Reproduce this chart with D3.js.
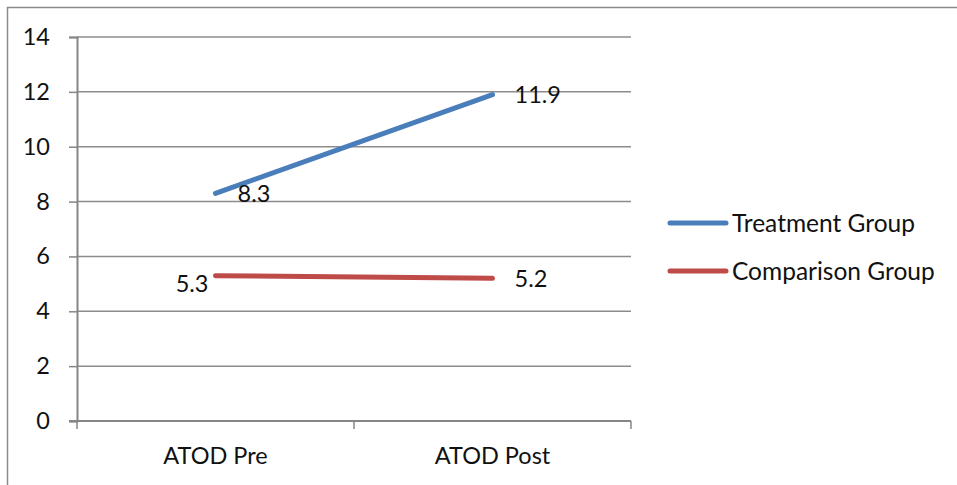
<!DOCTYPE html>
<html>
<head>
<meta charset="utf-8">
<script src="https://cdn.jsdelivr.net/npm/d3@7"></script>
<style>
  html, body { margin: 0; padding: 0; background: #fff; }
  svg { display: block; font-family: Lato, "Open Sans", sans-serif; }
</style>
</head>
<body>
<svg id="chart" width="957" height="485"></svg>
<script>
// ATOD scores before and after, by group
const categories = ["ATOD Pre", "ATOD Post"];
const seriesNames = ["Treatment Group", "Comparison Group"];
const treatmentValues = [8.3, 11.9];
const comparisonValues = [5.3, 5.2];
const yTicks = [0, 2, 4, 6, 8, 10, 12, 14];
const seriesColors = ["#4a7ebb", "#be4b48"];

const series = [
  { name: seriesNames[0], values: treatmentValues, color: seriesColors[0], labelSide: ["right", "right"] },
  { name: seriesNames[1], values: comparisonValues, color: seriesColors[1], labelSide: ["left", "right"] }
];

const svg = d3.select("#chart");
const margin = { left: 77, top: 37, right: 631, bottom: 421 };
const fontSize = 23.5;
const legendFontSize = 24.5;

// outer frame
svg.append("path")
  .attr("d", "M7.5,490V7.5H960")
  .attr("fill", "none")
  .attr("stroke", "#8a8a8a")
  .attr("stroke-width", 1.5);

const x = d3.scaleBand().domain(categories).range([margin.left, margin.right]);
const y = d3.scaleLinear().domain([0, 14]).range([margin.bottom, margin.top]);

// horizontal gridlines
svg.append("g")
  .selectAll("line")
  .data(yTicks.filter(d => d > 0))
  .join("line")
  .attr("x1", margin.left).attr("x2", margin.right)
  .attr("y1", d => y(d)).attr("y2", d => y(d))
  .attr("stroke", "#8c8c8c")
  .attr("stroke-width", 1.5);

// y axis
const yAxis = svg.append("g")
  .attr("transform", `translate(${margin.left},0)`)
  .call(d3.axisLeft(y).tickValues(yTicks).tickSize(8).tickPadding(19));
yAxis.select(".domain").attr("stroke", "#868686").attr("stroke-width", 2);
yAxis.selectAll(".tick line").attr("stroke", "#868686").attr("stroke-width", 1.5);
yAxis.selectAll(".tick text")
  .attr("fill", "#111")
  .style("font-size", fontSize + "px")
  .style("font-family", "Lato, 'Open Sans', sans-serif");

// x axis with ticks at category boundaries
const boundaries = [margin.left, margin.left + x.bandwidth(), margin.right];
const xAxis = svg.append("g").attr("transform", `translate(0,${margin.bottom})`);
xAxis.append("line")
  .attr("x1", margin.left - 8).attr("x2", margin.right)
  .attr("stroke", "#868686").attr("stroke-width", 2);
xAxis.selectAll(".btick")
  .data(boundaries)
  .join("line")
  .attr("class", "btick")
  .attr("x1", d => d).attr("x2", d => d)
  .attr("y1", 0).attr("y2", 8)
  .attr("stroke", "#868686").attr("stroke-width", 1.5);
xAxis.selectAll(".clabel")
  .data(categories)
  .join("text")
  .attr("class", "clabel")
  .attr("x", d => x(d) + x.bandwidth() / 2)
  .attr("y", 35)
  .attr("dy", "0.35em")
  .attr("text-anchor", "middle")
  .attr("fill", "#111")
  .style("font-size", fontSize + "px")
  .text(d => d);

// series lines
const line = d3.line()
  .x((d, i) => x(categories[i]) + x.bandwidth() / 2)
  .y(d => y(d));

series.forEach(s => {
  svg.append("path")
    .datum(s.values)
    .attr("d", line)
    .attr("fill", "none")
    .attr("stroke", s.color)
    .attr("stroke-width", 5)
    .attr("stroke-linecap", "round");

  svg.append("g")
    .selectAll("text")
    .data(s.values)
    .join("text")
    .attr("x", (d, i) => x(categories[i]) + x.bandwidth() / 2 + (s.labelSide[i] === "right" ? 22 : -7))
    .attr("y", (d, i) => y(d) + (s.labelSide[i] === "left" ? 8 : 0))
    .attr("dy", "0.35em")
    .attr("text-anchor", (d, i) => s.labelSide[i] === "right" ? "start" : "end")
    .attr("fill", "#111")
    .style("font-size", fontSize + "px")
    .text(d => d.toFixed(1));
});

// legend
const legend = svg.append("g")
  .selectAll("g")
  .data(series)
  .join("g")
  .attr("transform", (d, i) => `translate(670,${223 + i * 48})`);
legend.append("line")
  .attr("x1", 0).attr("x2", 56)
  .attr("stroke", d => d.color)
  .attr("stroke-width", 5)
  .attr("stroke-linecap", "round");
legend.append("text")
  .attr("x", 62)
  .attr("dy", "0.35em")
  .attr("fill", "#111")
  .style("font-size", legendFontSize + "px")
  .text(d => d.name);
</script>
</body>
</html>
